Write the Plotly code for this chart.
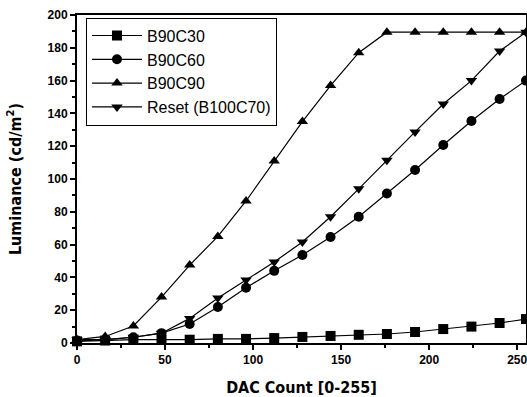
import plotly.graph_objects as go

dac = [0, 16, 32, 48, 64, 80, 96, 112, 128, 144, 160, 176, 192, 208, 224, 240, 255]
b90c30 = [1.0, 1.5, 2.0, 2.0, 2.0, 2.5, 2.5, 3.0, 3.7, 4.3, 5.0, 5.5, 6.7, 8.5, 10.0, 12.2, 14.6]
b90c60 = [1.5, 2.0, 3.5, 6.0, 11.6, 22.0, 33.7, 44.0, 53.7, 64.6, 77.0, 91.2, 105.5, 120.7, 135.4, 148.8, 160.0]
b90c90 = [2.0, 4.0, 10.4, 28.0, 47.5, 65.0, 86.6, 111.0, 135.0, 157.0, 177.0, 189.5, 189.5, 189.5, 189.5, 189.5, 189.5]
reset = [2.0, 2.0, 3.5, 6.0, 15.0, 27.4, 38.4, 49.4, 61.6, 77.0, 94.0, 111.5, 128.7, 145.7, 160.0, 178.0, 189.5]

names = ["B90C30", "B90C60", "B90C90", "Reset (B100C70)"]
symbols = ["square", "circle", "triangle-up", "triangle-down"]
series = [b90c30, b90c60, b90c90, reset]

fig = go.Figure()
for name, sym, ys in zip(names, symbols, series):
    fig.add_trace(go.Scatter(
        x=dac, y=ys, name=name, mode="lines+markers",
        line=dict(color="black", width=1.2),
        marker=dict(symbol=sym, size=10, color="black"),
        cliponaxis=False,
    ))

title_font = dict(family="DejaVu Sans Condensed, Liberation Sans Narrow, Arial", size=16, color="black", weight="bold")
tick_font = dict(family="Liberation Sans, Arial", size=12, color="black", weight="bold")

fig.update_layout(
    width=527, height=397,
    margin=dict(l=77, r=1, t=15, b=54),
    paper_bgcolor="white", plot_bgcolor="white",
    showlegend=True,
    legend=dict(
        x=0.02, y=0.992, xanchor="left", yanchor="top",
        bordercolor="black", borderwidth=1, bgcolor="white",
        font=dict(family="Liberation Sans, Arial", size=16, color="black"),
        itemwidth=50, tracegroupgap=0, entrywidth=215,
    ),
    xaxis=dict(
        range=[0, 255], tickvals=[0, 50, 100, 150, 200, 250],
        ticks="outside", ticklen=5, tickwidth=1.5, tickcolor="black",
        minor=dict(tickvals=[25, 75, 125, 175, 225], ticks="outside", ticklen=3, tickcolor="black"),
        showline=True, linecolor="black", linewidth=2, mirror=True,
        showgrid=False, zeroline=False, automargin=False,
        ticklabeloverflow="allow",
        tickfont=tick_font,
        title=dict(text="DAC Count [0-255]", font=title_font, standoff=22),
    ),
    yaxis=dict(
        range=[0, 200], tickvals=list(range(0, 201, 20)),
        ticks="outside", ticklen=5, tickwidth=1.5, tickcolor="black",
        minor=dict(tickvals=list(range(10, 200, 20)), ticks="outside", ticklen=3, tickcolor="black"),
        showline=True, linecolor="black", linewidth=2, mirror=True,
        showgrid=False, zeroline=False, automargin=False,
        ticklabeloverflow="allow",
        tickfont=tick_font,
        title=dict(text="Luminance (cd/m<sup>2</sup>)", font=title_font, standoff=22),
    ),
)

fig.write_html(
    "out.html",
    config={"displayModeBar": False},
    post_script="document.body.style.margin='0';document.body.style.overflow='hidden';",
)
